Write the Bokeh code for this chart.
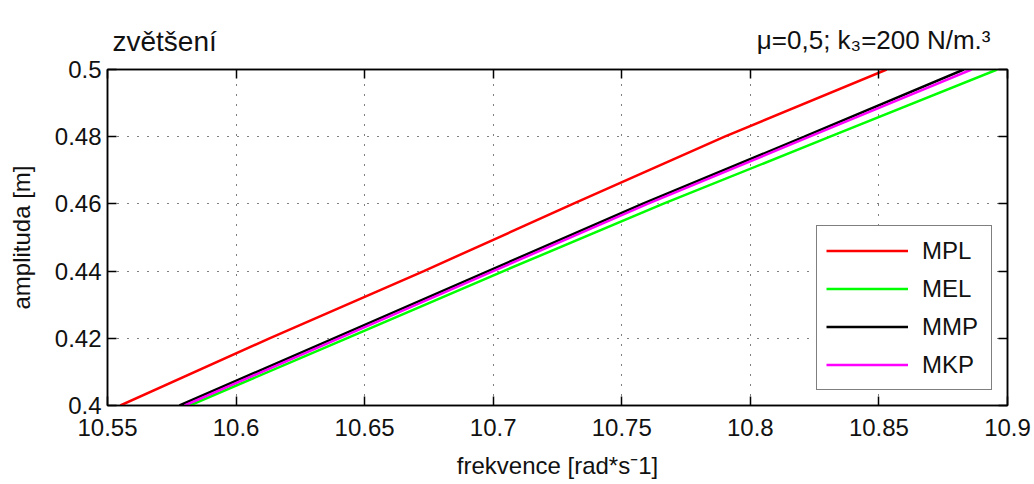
from bokeh.plotting import figure
from bokeh.models import (Legend, LegendItem, Title, LinearAxis, FixedTicker,
                          Range1d, PrintfTickFormatter)
from bokeh.embed import file_html
from bokeh.resources import INLINE

# ---- data ----
amplitude = [0.40, 0.42, 0.44, 0.46, 0.48, 0.50]
freq_MPL = [10.555, 10.613, 10.673, 10.731, 10.790, 10.853]
freq_MEL = [10.582, 10.643, 10.704, 10.766, 10.831, 10.896]
freq_MMP = [10.578, 10.638, 10.698, 10.758, 10.821, 10.883]
freq_MKP = [10.580, 10.640, 10.700, 10.760, 10.823, 10.886]

series_names = ["MPL", "MEL", "MMP", "MKP"]
series_colors = ["#ff0000", "#00ff00", "#000000", "#ff00ff"]

x_ticks = [10.55, 10.6, 10.65, 10.7, 10.75, 10.8, 10.85, 10.9]
x_tick_labels = ["10.55", "10.6", "10.65", "10.7", "10.75", "10.8", "10.85", "10.9"]
y_ticks = [0.4, 0.42, 0.44, 0.46, 0.48, 0.5]
y_tick_labels = ["0.4", "0.42", "0.44", "0.46", "0.48", "0.5"]

title_text = "zvětšení"
note_text = "μ=0,5; k₃=200 N/m.³"
x_label = "frekvence [rad*s⁻1]"
y_label = "amplituda [m]"

FONT = "Liberation Sans"

p = figure(width=1034, height=484,
           x_range=Range1d(10.55, 10.9), y_range=Range1d(0.4, 0.5),
           output_backend="svg", toolbar_location=None,
           min_border_left=107, min_border_right=27,
           min_border_top=69, min_border_bottom=79,
           background_fill_color="white", border_fill_color="white")

p.outline_line_color = "black"
p.outline_line_width = 1.5

# grid
for g in (p.xgrid, p.ygrid):
    g.grid_line_color = "black"
    g.grid_line_width = 1
    g.grid_line_dash = "1 9"
p.xgrid.ticker = FixedTicker(ticks=x_ticks)
p.ygrid.ticker = FixedTicker(ticks=y_ticks)

def style_axis(ax, ticks, labels, show_labels=True):
    ax.ticker = FixedTicker(ticks=ticks)
    ax.formatter = PrintfTickFormatter(format="%g")
    ax.major_label_overrides = {t: l for t, l in zip(ticks, labels)}
    ax.major_tick_in = 9
    ax.major_tick_out = 0
    ax.minor_tick_line_color = None
    ax.axis_line_color = "black"
    ax.axis_line_width = 1.5
    ax.major_tick_line_color = "black"
    ax.major_tick_line_width = 1.5
    ax.major_label_text_font = FONT
    ax.major_label_text_font_size = "24px" if show_labels else "1px"
    ax.major_label_text_color = "#111111" if show_labels else None
    ax.axis_label_text_font = FONT
    ax.axis_label_text_font_size = "24px"
    ax.axis_label_text_font_style = "normal"
    ax.axis_label_text_color = "#111111"

xa = p.below[0]
ya = p.left[0]
xa.axis_label = x_label
ya.axis_label = y_label
style_axis(xa, x_ticks, x_tick_labels)
style_axis(ya, y_ticks, y_tick_labels)
xa.major_label_standoff = 13
xa.axis_label_standoff = 13
ya.major_label_standoff = 6
ya.axis_label_standoff = 17

ra = LinearAxis()
style_axis(ra, y_ticks, y_tick_labels, show_labels=False)
ra.major_label_standoff = 0
p.add_layout(ra, "right")
ta = LinearAxis()
style_axis(ta, x_ticks, x_tick_labels, show_labels=False)
ta.major_label_standoff = 0
p.add_layout(ta, "above")

# lines
renderers = []
for name, freqs, col in zip(series_names, [freq_MPL, freq_MEL, freq_MMP, freq_MKP], series_colors):
    r = p.line(freqs, amplitude, line_color=col, line_width=2.5)
    renderers.append((name, r))

legend = Legend(items=[LegendItem(label=n, renderers=[r]) for n, r in renderers],
                location=(709, 15))
legend.border_line_color = "black"
legend.border_line_width = 1
legend.background_fill_color = "white"
legend.background_fill_alpha = 1
legend.label_text_font = FONT
legend.label_text_font_size = "24px"
legend.label_text_color = "#111111"
legend.glyph_width = 82
legend.glyph_height = 31
legend.label_height = 31
legend.label_width = 60
legend.label_standoff = 14
legend.spacing = 7
legend.padding = 9
legend.margin = 0
p.add_layout(legend, "center")

# main title: inner panel, just above the top axis
main_title = Title(text=title_text, align="left", offset=5, standoff=26,
                   text_font=FONT, text_font_size="28px", text_font_style="normal",
                   text_color="#111111")
p.add_layout(main_title, "above")

# parameter note: outer panel, pulled back down onto the same row
p.title.text = note_text
p.title.align = "right"
p.title.offset = 17
p.title.standoff = -88
p.title.text_font = FONT
p.title.text_font_size = "26px"
p.title.text_font_style = "normal"
p.title.text_color = "#111111"

open("out.html", "w").write(file_html(p, INLINE))
